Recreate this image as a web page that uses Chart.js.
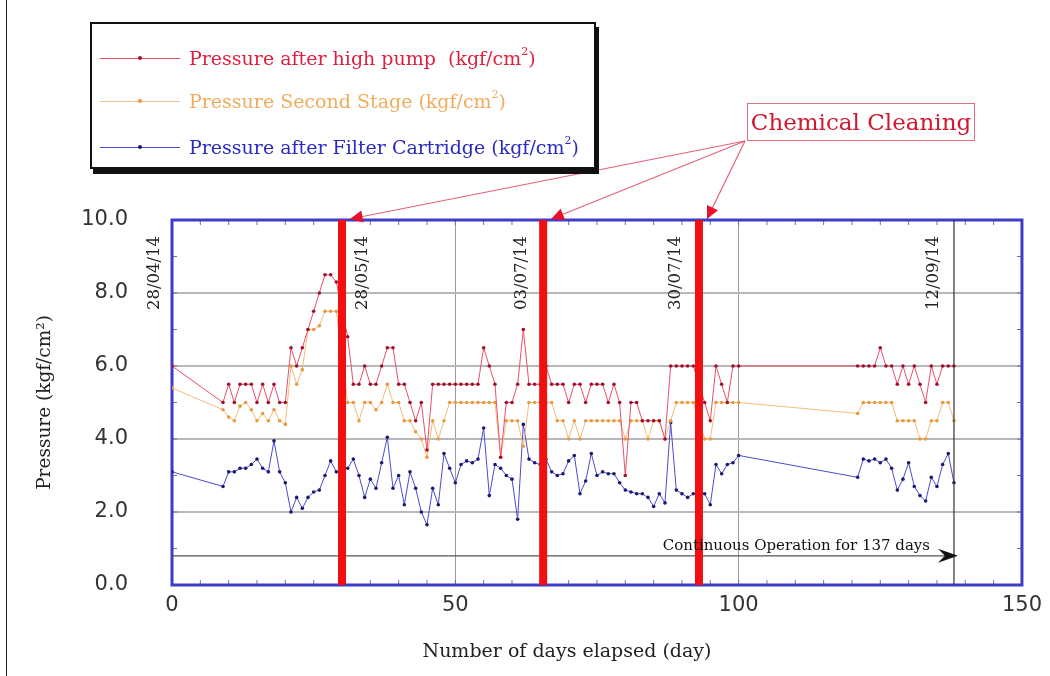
<!DOCTYPE html>
<html lang="en">
<head>
  <meta charset="UTF-8" />
  <title>Pressure vs Number of days elapsed</title>
  <script src="https://cdn.jsdelivr.net/npm/chart.js"></script>
  <style>
    body { margin: 0; background: #fff; }
    #wrap { position: relative; width: 1050px; height: 676px; overflow: hidden; }
    #wrap canvas { position: absolute; left: 0; top: 0; }
    #frame { position: absolute; left: 6px; top: 0; width: 1px; height: 676px; background: #222; }
    #legendBox {
      position: absolute; left: 90px; top: 22px; width: 502px; height: 143px;
      border: 2px solid #111; box-shadow: 3px 5px 0 #111; background: #fff;
      font-family: "DejaVu Serif", serif; font-size: 19px;
    }
    .row { position: absolute; left: 8px; height: 22px; display: flex; align-items: center; white-space: nowrap; }
    .sample { width: 80px; height: 1px; margin-right: 9px; position: relative; }
    .sample i { position: absolute; left: 38px; top: -2px; width: 4px; height: 4px; border-radius: 50%; }
    .row sup { font-size: 11px; position: relative; top: -7px; vertical-align: baseline; }
    #cleanBox {
      position: absolute; left: 747px; top: 103px; width: 226px; height: 36px;
      border: 1.5px solid #e07080; color: #d01830;
      font-family: "DejaVu Serif", serif; font-size: 23px;
      display: flex; align-items: center; justify-content: center;
    }
  </style>
</head>
<body>
  <div id="wrap">
    <canvas id="pressureChart" width="1050" height="676"></canvas>
    <div id="frame"></div>

    <!-- legend -->
    <div id="legendBox">
      <div class="row" style="top:23px; color:#e02040;">
        <span class="sample" style="background:#e8506a;"><i style="background:#a01028;"></i></span>
        Pressure after high pump&nbsp; (kgf/cm<sup>2</sup>)
      </div>
      <div class="row" style="top:66px; color:#f0ac5a;">
        <span class="sample" style="background:#f4c38c;"><i style="background:#e89a40;"></i></span>
        Pressure Second Stage (kgf/cm<sup>2</sup>)
      </div>
      <div class="row" style="top:112px; color:#2a2ac0;">
        <span class="sample" style="background:#4a4ad0;"><i style="background:#1a1a70;"></i></span>
        Pressure after Filter Cartridge (kgf/cm<sup>2</sup>)
      </div>
    </div>

    <div id="cleanBox">Chemical Cleaning</div>
  </div>

  <script>
    // days elapsed since 28/04/14 (gap between day 100 and 121)
    const days = [0,
      9, 10, 11, 12, 13, 14, 15, 16, 17, 18, 19, 20, 21, 22, 23, 24, 25, 26, 27, 28, 29,
      31, 32, 33, 34, 35, 36, 37, 38, 39, 40, 41, 42, 43, 44, 45, 46, 47, 48, 49, 50,
      51, 52, 53, 54, 55, 56, 57, 58, 59, 60, 61, 62, 63, 64, 65, 66, 67, 68, 69, 70,
      71, 72, 73, 74, 75, 76, 77, 78, 79, 80, 81, 82, 83, 84, 85, 86, 87, 88, 89, 90,
      91, 92, 93, 94, 95, 96, 97, 98, 99, 100,
      121, 122, 123, 124, 125, 126, 127, 128, 129, 130, 131, 132, 133, 134, 135, 136, 137, 138];

    const highPump = [6.0,
      5.0, 5.5, 5.0, 5.5, 5.5, 5.5, 5.0, 5.5, 5.0, 5.5, 5.0, 5.0, 6.5, 6.0, 6.5, 7.0, 7.5, 8.0, 8.5, 8.5, 8.3,
      6.8, 5.5, 5.5, 6.0, 5.5, 5.5, 6.0, 6.5, 6.5, 5.5, 5.5, 5.0, 4.5, 5.0, 3.7, 5.5, 5.5, 5.5, 5.5, 5.5,
      5.5, 5.5, 5.5, 5.5, 6.5, 6.0, 5.5, 3.5, 5.0, 5.0, 5.5, 7.0, 5.5, 5.5, 5.5, 6.0, 5.5, 5.5, 5.5, 5.0,
      5.5, 5.5, 5.0, 5.5, 5.5, 5.5, 5.0, 5.5, 5.0, 3.0, 5.0, 5.0, 4.5, 4.5, 4.5, 4.5, 4.0, 6.0, 6.0, 6.0,
      6.0, 6.0, 5.5, 5.0, 4.5, 6.0, 5.5, 5.0, 6.0, 6.0,
      6.0, 6.0, 6.0, 6.0, 6.5, 6.0, 6.0, 5.5, 6.0, 5.5, 6.0, 5.5, 5.0, 6.0, 5.5, 6.0, 6.0, 6.0];

    const secondStage = [5.4,
      4.8, 4.6, 4.5, 4.9, 5.0, 4.8, 4.5, 4.7, 4.5, 4.8, 4.5, 4.4, 6.0, 5.5, 5.9, 7.0, 7.0, 7.1, 7.5, 7.5, 7.5,
      5.0, 5.0, 4.5, 5.0, 5.0, 4.8, 5.0, 5.5, 5.0, 5.0, 4.5, 4.5, 4.2, 4.0, 3.5, 4.5, 4.0, 4.5, 5.0, 5.0,
      5.0, 5.0, 5.0, 5.0, 5.0, 5.0, 5.0, 3.5, 4.5, 4.5, 4.5, 3.8, 5.0, 5.0, 5.0, 5.0, 5.0, 4.5, 4.5, 4.0,
      4.5, 4.0, 4.5, 4.5, 4.5, 4.5, 4.5, 4.5, 4.5, 4.0, 4.5, 4.5, 4.5, 4.0, 4.5, 4.5, 4.0, 4.5, 5.0, 5.0,
      5.0, 5.0, 4.5, 4.0, 4.0, 5.0, 5.0, 5.0, 5.0, 5.0,
      4.7, 5.0, 5.0, 5.0, 5.0, 5.0, 5.0, 4.5, 4.5, 4.5, 4.5, 4.0, 4.0, 4.5, 4.5, 5.0, 5.0, 4.5];

    const filterCartridge = [3.1,
      2.7, 3.1, 3.1, 3.2, 3.2, 3.3, 3.45, 3.2, 3.1, 3.95, 3.1, 2.8, 2.0, 2.4, 2.1, 2.4, 2.55, 2.6, 3.0, 3.4, 3.1,
      3.2, 3.45, 3.0, 2.4, 2.9, 2.65, 3.35, 4.05, 2.65, 3.0, 2.2, 3.1, 2.65, 2.0, 1.65, 2.65, 2.2, 3.6, 3.2, 2.8,
      3.3, 3.4, 3.35, 3.45, 4.3, 2.45, 3.3, 3.2, 3.0, 2.9, 1.8, 4.4, 3.45, 3.35, 3.3, 3.45, 3.1, 3.0, 3.05, 3.4,
      3.55, 2.5, 2.85, 3.6, 3.0, 3.1, 3.05, 3.05, 2.8, 2.6, 2.55, 2.5, 2.5, 2.4, 2.15, 2.5, 2.25, 4.45, 2.6, 2.5,
      2.4, 2.5, 2.55, 2.5, 2.2, 3.3, 3.05, 3.3, 3.35, 3.55,
      2.95, 3.45, 3.4, 3.45, 3.35, 3.45, 3.2, 2.6, 2.9, 3.35, 2.7, 2.45, 2.3, 2.95, 2.7, 3.3, 3.6, 2.8];

    // chemical cleaning days and date markers
    const cleaningDays = [30, 65.5, 93];
    const dateDays = [0, 30, 65.5, 93, 138];
    const dateLabels = ['28/04/14', '28/05/14', '03/07/14', '30/07/14', '12/09/14'];
    const endDay = 138;
    const continuousLevel = 0.8;
    const continuousText = 'Continuous Operation for 137 days';
    const xTitle = 'Number of days elapsed (day)';

    const xTicks = [0, 50, 100, 150];
    const yTicks = [0, 2, 4, 6, 8, 10];

    function pts(xs, ys) {
      return xs.map((d, i) => ({ x: d, y: ys[i] }));
    }

    const serif = '"DejaVu Serif", serif';
    const dateOffsets = [-17, 21, -21, -23, -20];

    const decor = {
      id: 'decor',
      beforeDatasetsDraw(chart) {
        const { ctx, chartArea: a, scales: { x, y } } = chart;
        ctx.save();
        // minor ticks, inward
        ctx.strokeStyle = '#7070b0';
        ctx.lineWidth = 1;
        ctx.beginPath();
        for (let d = 5; d < 150; d += 5) {
          const px = x.getPixelForValue(d);
          ctx.moveTo(px, a.top); ctx.lineTo(px, a.top + 5);
          ctx.moveTo(px, a.bottom); ctx.lineTo(px, a.bottom - 5);
        }
        for (let v = 1; v < 10; v++) {
          const py = y.getPixelForValue(v);
          ctx.moveTo(a.left, py); ctx.lineTo(a.left + 5, py);
          ctx.moveTo(a.right, py); ctx.lineTo(a.right - 5, py);
        }
        ctx.stroke();
        // plot border
        ctx.strokeStyle = '#3c3cc8';
        ctx.lineWidth = 3;
        ctx.strokeRect(a.left, a.top, a.right - a.left, a.bottom - a.top);
        ctx.restore();
      },
      afterDraw(chart) {
        const { ctx, chartArea: a, scales: { x, y } } = chart;
        ctx.save();
        // date labels, rotated
        ctx.fillStyle = '#222';
        ctx.font = '16.5px ' + serif;
        ctx.textAlign = 'left';
        ctx.textBaseline = 'middle';
        dateLabels.forEach((t, i) => {
          ctx.save();
          ctx.translate(x.getPixelForValue(dateDays[i]) + dateOffsets[i], 310);
          ctx.rotate(-Math.PI / 2);
          ctx.fillText(t, 0, 0);
          ctx.restore();
        });
        // x axis title, centred a little left of the plot centre as in the figure
        ctx.font = '19px ' + serif;
        ctx.textAlign = 'center';
        ctx.fillText(xTitle, 567, 652);
        // continuous operation arrow head + text
        const ly = y.getPixelForValue(continuousLevel);
        const tip = x.getPixelForValue(endDay) + 4;
        ctx.fillStyle = '#111';
        ctx.beginPath();
        ctx.moveTo(tip, ly);
        ctx.lineTo(tip - 20, ly - 7);
        ctx.lineTo(tip - 13, ly);
        ctx.lineTo(tip - 20, ly + 7);
        ctx.closePath();
        ctx.fill();
        ctx.font = '15px ' + serif;
        ctx.textAlign = 'right';
        ctx.textBaseline = 'alphabetic';
        ctx.fillText(continuousText, 930, ly - 6);
        // arrows from the Chemical Cleaning box to each cleaning line
        const sx = 745, sy = 141;
        cleaningDays.forEach(d => {
          const tx = x.getPixelForValue(d) + 8, ty = a.top - 1;
          ctx.strokeStyle = 'rgba(225,70,95,0.85)';
          ctx.lineWidth = 1.2;
          ctx.beginPath(); ctx.moveTo(sx, sy); ctx.lineTo(tx, ty); ctx.stroke();
          const ang = Math.atan2(ty - sy, tx - sx);
          ctx.fillStyle = '#e8102a';
          ctx.beginPath();
          ctx.moveTo(tx, ty);
          ctx.lineTo(tx - 14 * Math.cos(ang - 0.45), ty - 14 * Math.sin(ang - 0.45));
          ctx.lineTo(tx - 14 * Math.cos(ang + 0.45), ty - 14 * Math.sin(ang + 0.45));
          ctx.closePath();
          ctx.fill();
        });
        ctx.restore();
      }
    };

    const vline = (d, color, width) => ({
      data: [{ x: d, y: 0 }, { x: d, y: 10 }],
      borderColor: color, borderWidth: width, pointRadius: 0
    });

    const datasets = [
      ...cleaningDays.map(d => vline(d, '#f01010', 8)),
      vline(endDay, '#333', 1.2),
      {
        data: [{ x: 0, y: continuousLevel }, { x: endDay, y: continuousLevel }],
        borderColor: '#555', borderWidth: 1.2, pointRadius: 0
      },
      {
        label: 'Pressure after high pump (kgf/cm²)',
        data: pts(days, highPump),
        borderColor: '#e8506a', borderWidth: 1,
        pointRadius: 1.8, pointBackgroundColor: '#a01028', pointBorderWidth: 0
      },
      {
        label: 'Pressure Second Stage (kgf/cm²)',
        data: pts(days, secondStage),
        borderColor: '#f4bb7c', borderWidth: 1,
        pointRadius: 1.8, pointBackgroundColor: '#e89a40', pointBorderWidth: 0
      },
      {
        label: 'Pressure after Filter Cartridge (kgf/cm²)',
        data: pts(days, filterCartridge),
        borderColor: '#4a4ad0', borderWidth: 1,
        pointRadius: 1.8, pointBackgroundColor: '#1a1a70', pointBorderWidth: 0
      }
    ];

    new Chart(document.getElementById('pressureChart'), {
      type: 'line',
      data: { datasets },
      options: {
        responsive: false,
        animation: false,
        layout: { padding: { left: 0, top: 220, right: 22, bottom: 0 } },
        plugins: { legend: { display: false }, tooltip: { enabled: false } },
        scales: {
          x: {
            type: 'linear', min: 0, max: 150,
            afterBuildTicks: s => { s.ticks = xTicks.map(v => ({ value: v })); },
            afterFit: s => { s.height = 91; },
            grid: {
              drawTicks: false,
              color: c => (c.tick && (c.tick.value === 50 || c.tick.value === 100)) ? '#9a9a9a' : 'rgba(0,0,0,0)'
            },
            border: { display: false },
            ticks: { padding: 8, color: '#333', font: { family: '"DejaVu Sans", sans-serif', size: 21 } }
          },
          y: {
            min: 0, max: 10,
            afterBuildTicks: s => { s.ticks = yTicks.map(v => ({ value: v })); },
            afterFit: s => { s.width = 172; },
            grid: {
              drawTicks: false, lineWidth: 2,
              color: c => (c.tick && c.tick.value > 0 && c.tick.value < 10) ? '#b8b8b8' : 'rgba(0,0,0,0)'
            },
            border: { display: false },
            ticks: {
              padding: 44, color: '#333',
              font: { family: '"DejaVu Sans", sans-serif', size: 21 },
              callback: v => v.toFixed(1)
            },
            title: {
              display: true, text: 'Pressure (kgf/cm²)', color: '#222',
              font: { family: serif, size: 18.5 }, padding: { top: 34, bottom: 0 }
            }
          }
        }
      },
      plugins: [decor]
    });
  </script>
</body>
</html>
